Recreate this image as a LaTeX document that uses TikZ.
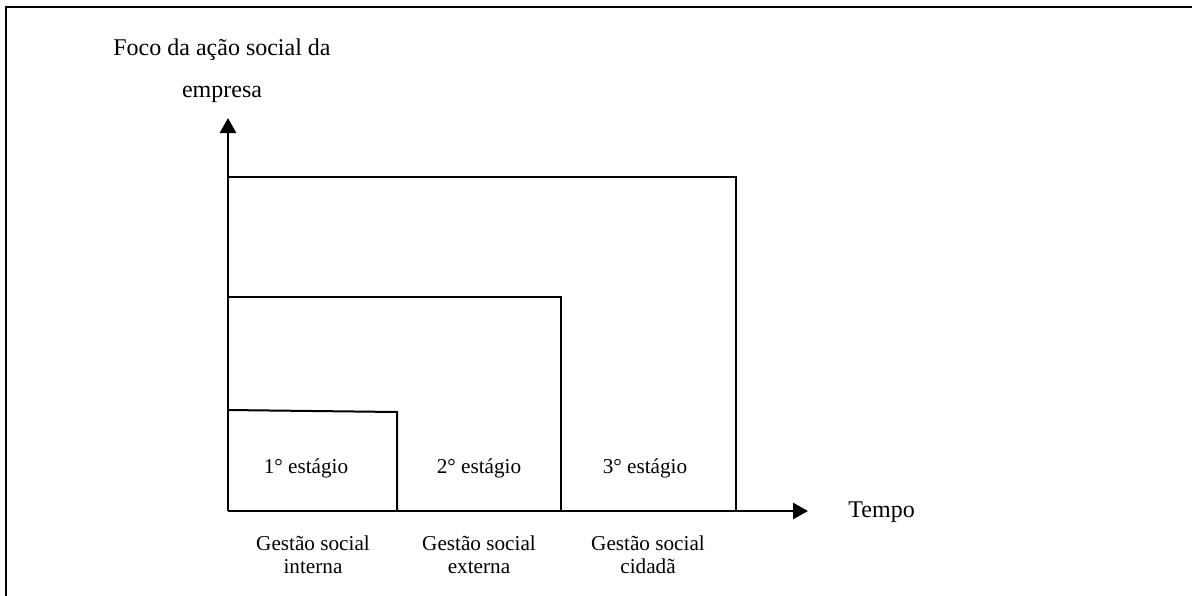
\documentclass[tikz,border=0pt]{standalone}
\usepackage{fontspec}
\setmainfont{Liberation Serif}
\usetikzlibrary{arrows.meta}
\begin{document}
\begin{tikzpicture}[x=0.5pt,y=-0.5pt,
  frameline/.style={line width=1.1pt,black},
  axisline/.style={line width=1.4pt,black,-{Triangle[width=8pt,length=7.5pt]}},
  boxline/.style={line width=1pt,black},
  biglabel/.style={font=\fontsize{12}{14}\selectfont,anchor=base,inner sep=0pt},
  smalllabel/.style={font=\fontsize{10.6}{11.5}\selectfont,anchor=base,inner sep=0pt},
  gestlabel/.style={font=\fontsize{10.6}{11.5}\selectfont,align=center,anchor=north,inner sep=0pt}]
\useasboundingbox (0,0) rectangle (1192,595);
% frame (top and left)
\draw[frameline] (6,600) -- (6,7) -- (1200,7);
% axes
\coordinate (O) at (228,511);
\coordinate (ytip) at (228,118);
\coordinate (xtip) at (808,511);
\draw[axisline] (O) -- (ytip);
\draw[axisline] (O) -- (xtip);
% nested rectangles
\draw[boxline] (228,177) -- (736,177) -- (736,511);
\draw[boxline] (228,297) -- (561,297) -- (561,511);
\draw[boxline] (228,410) -- (397,412) -- (397,511);
% labels
\node[biglabel] (ylab1) at (222,55) {Foco da ação social da};
\node[biglabel] (ylab2) at (222,97) {empresa};
\node[biglabel,anchor=base west] (xlab) at (848,517) {Tempo};
\node[smalllabel] (s1) at (306,473) {1° estágio};
\node[smalllabel] (s2) at (479,473) {2° estágio};
\node[smalllabel] (s3) at (645,473) {3° estágio};
\node[gestlabel] (g1) at (313,535) {Gestão social\\interna};
\node[gestlabel] (g2) at (479,535) {Gestão social\\externa};
\node[gestlabel] (g3) at (648,535) {Gestão social\\cidadã};
\end{tikzpicture}
\end{document}
